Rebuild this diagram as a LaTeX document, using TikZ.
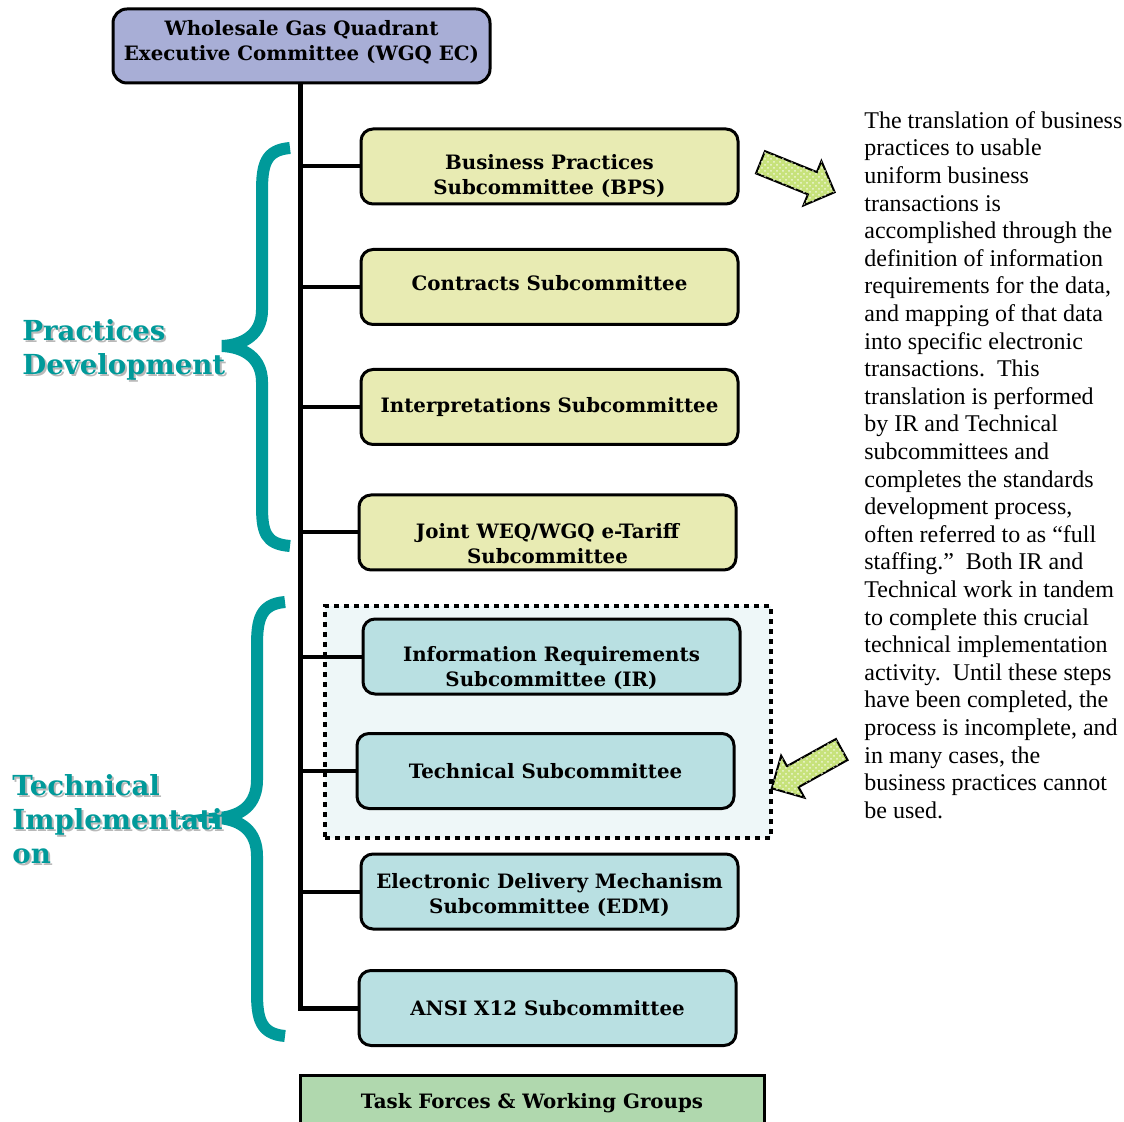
\documentclass[tikz,border=0pt]{standalone}
\usepackage{fontspec}
\setmainfont{Liberation Serif}
\newfontfamily\slabfont{DejaVu Serif}
\usetikzlibrary{positioning,shapes.arrows,patterns}

\definecolor{ecblue}{HTML}{A8AED6}
\definecolor{pracyellow}{HTML}{E8EBB3}
\definecolor{techblue}{HTML}{B9E0E2}
\definecolor{taskgreen}{HTML}{B0D8AE}
\definecolor{braceteal}{HTML}{009A9A}
\definecolor{arrowgreen}{HTML}{C7E27B}
\definecolor{groupfill}{HTML}{EEF7F8}

\begin{document}
\begin{tikzpicture}[
      x=0.5pt, y=-0.5pt,
      box/.style={draw,line width=1.5pt,rounded corners=6pt,minimum width=188.5pt,
                  minimum height=37.5pt,inner ysep=1pt,align=center,
                  font=\slabfont\bfseries\fontsize{9.9}{12.5}\selectfont},
      pracbox/.style={box,fill=pracyellow},
      techbox/.style={box,fill=techblue},
      textdrop/.style={text height=#1},
      branch/.style={line width=2pt},
      brace/.style={line width=6pt,draw=braceteal},
      sidelabel/.style={anchor=west,align=left,inner sep=0pt,
                  font=\slabfont\bfseries\fontsize{13.8}{17}\selectfont},
      bigarrow/.style={single arrow,draw,line width=1pt,fill=arrowgreen,
                  minimum height=40pt,inner sep=5.5pt,single arrow head extend=6pt,
                  postaction={pattern=crosshatch dots,pattern color=white!70!arrowgreen}}
    ]
    \useasboundingbox (0,0) rectangle (1124,1122);

    % dotted frame round IR and Technical
    \node[draw,fill=groupfill,line width=2pt,dash pattern=on 2.5pt off 2.5pt,
          minimum width=223pt,minimum height=116pt] (techgroup) at (548,722) {};

    \node[box,fill=ecblue,rounded corners=7pt,minimum height=37pt,textdrop=15.9pt] (ec) at (301.5,46)
        {Wholesale Gas Quadrant\\Executive Committee (WGQ EC)};

    \node[pracbox,textdrop=29.9pt] (bps) at (549.5,166.5) {Business Practices\\Subcommittee (BPS)};
    \node[pracbox,textdrop=3.4pt] (con) at (549.5,287) {Contracts Subcommittee};
    \node[pracbox] (int) at (549.5,407) {Interpretations Subcommittee};
    \node[pracbox,textdrop=30.9pt] (joint) at (547.5,532.5) {Joint WEQ/WGQ e-Tariff\\Subcommittee};
    \node[techbox,textdrop=31.9pt] (ir) at (551.5,656.5) {Information Requirements\\Subcommittee (IR)};
    \node[techbox] (tech) at (545.5,771) {Technical Subcommittee};
    \node[techbox,textdrop=23.9pt] (edm) at (549.5,891.5) {Electronic Delivery Mechanism\\Subcommittee (EDM)};
    \node[techbox] (ansi) at (547.5,1008) {ANSI X12 Subcommittee};

    \node[draw,line width=1.5pt,fill=taskgreen,minimum width=232pt,minimum height=28pt,
          font=\slabfont\bfseries\fontsize{9.9}{12.5}\selectfont] (task) at (532,1103)
        {Task Forces \& Working Groups};

    % trunk and branches
    \coordinate (trunk) at (300,0);
    \draw[line width=2.5pt] (ec.south -| trunk) -- (ansi.west -| trunk) -- (ansi.west);
    \foreach \n in {bps,con,int,joint,ir,tech,edm}
        \draw[branch] (\n.west -| trunk) -- (\n.west);

    % braces
    \draw[brace] (290,148) .. controls (265,150) and (262,165) .. (262,192) -- (262,310)
        .. controls (262,334) and (244,345) .. (222,346)
        .. controls (244,347) and (262,358) .. (262,382) -- (262,505)
        .. controls (262,532) and (265,544) .. (290,546);
    \draw[brace] (285,602) .. controls (260,604) and (257,620) .. (257,646) -- (257,780)
        .. controls (257,805) and (241,816) .. (219,818)
        .. controls (241,820) and (257,831) .. (257,856) -- (257,992)
        .. controls (257,1018) and (260,1034) .. (285,1036);

    % group labels
    \node[sidelabel,text=gray!55] (pdshadow) at (24,352) {Practices\\Development};
    \node[sidelabel,text=braceteal] (pd) at (22,350) {Practices\\Development};
    \node[sidelabel,text=gray!55] (tishadow) at (14,821) {Technical\\Implementati\\on};
    \node[sidelabel,text=braceteal] (ti) at (12,819) {Technical\\Implementati\\on};

    % pointer arrows
    \node[bigarrow,rotate=-22] (arrowtop) at (792,175) {};
    \node[bigarrow,rotate=209] (arrowlow) at (812,766) {};

    % explanation text
    \node[anchor=north west,align=left,inner sep=0pt,
          font=\fontsize{12}{13.8}\selectfont] (note) at (864,111)
        {The translation of business\\practices to usable\\uniform business\\
         transactions is\\accomplished through the\\definition of information\\
         requirements for the data,\\and mapping of that data\\
         into specific electronic\\transactions.\ \ This\\translation is performed\\
         by IR and Technical\\subcommittees and\\completes the standards\\
         development process,\\often referred to as “full\\staffing.”\ \ Both IR and\\
         Technical work in tandem\\to complete this crucial\\technical implementation\\
         activity.\ \ Until these steps\\have been completed, the\\
         process is incomplete, and\\in many cases, the\\business practices cannot\\be used.};
\end{tikzpicture}
\end{document}
